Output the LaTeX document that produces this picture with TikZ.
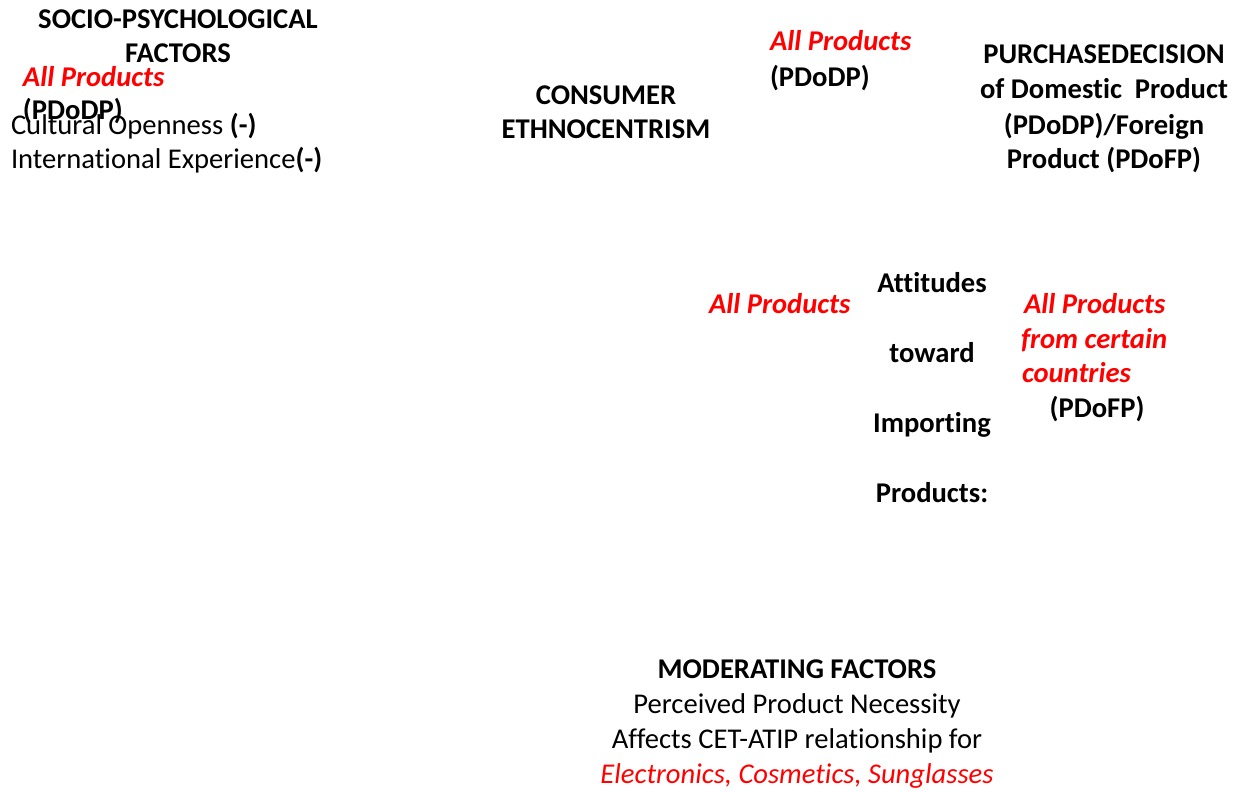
\documentclass[tikz,border=0pt]{standalone}
\usepackage{fontspec}
\setmainfont{Carlito}[Ligatures={NoCommon,NoContextual,NoRare}, RawFeature={-liga;-clig;-calt;-dlig}]
\definecolor{accent}{RGB}{255,0,0}
\tikzset{
  txt/.style={inner sep=0pt, outer sep=0pt, font=\fontsize{28.6}{34}\selectfont},
  hd/.style={txt, font=\fontsize{28.6}{34}\selectfont\bfseries},
  redit/.style={txt, text=accent, font=\fontsize{28.6}{34}\selectfont\bfseries\itshape},
}
\begin{document}
\begin{tikzpicture}[x=1pt,y=-1pt]
\useasboundingbox (0,0) rectangle (1248,792);
% socio-psychological
\node[hd, anchor=base] (sp1) at (178,29) {SOCIO-PSYCHOLOGICAL};
\node[hd, anchor=base] (sp2) at (178,63) {FACTORS};
\node[redit, anchor=base west] (ap1) at (23,86) {All Products};
\node[hd, anchor=base west] (pd1) at (23,119) {(PDoDP)};
\node[txt, anchor=base west] (co) at (11,134) {Cultural Openness \textbf{(-)}};
\node[txt, anchor=base west] (ie) at (11,168) {International Experience\textbf{(-)}};
% consumer ethnocentrism
\node[hd, anchor=base] (ce1) at (606,104) {CONSUMER};
\node[hd, anchor=base] (ce2) at (606,138) {ETHNOCENTRISM};
\node[redit, anchor=base west] (ap2) at (770,51) {All Products};
\node[hd, anchor=base west] (pd2) at (770,86) {(PDoDP)};
% purchase decision
\node[hd, anchor=base] (pu1) at (1104,64) {PURCHASEDECISION};
\node[hd, anchor=base] (pu2) at (1104,99) {of Domestic\ \ Product};
\node[hd, anchor=base] (pu3) at (1104,134) {(PDoDP)/Foreign};
\node[hd, anchor=base] (pu4) at (1104,168) {Product (PDoFP)};
% attitudes
\node[redit, anchor=base west] (ap3) at (709,313) {All Products};
\node[hd, anchor=base] (at1) at (932,292) {Attitudes};
\node[hd, anchor=base] (at2) at (932,362) {toward};
\node[hd, anchor=base] (at3) at (932,432) {Importing};
\node[hd, anchor=base] (at4) at (932,502) {Products:};
\node[redit, anchor=base west] (ap4) at (1024,313) {All Products};
\node[redit, anchor=base west] (fc) at (1021,348) {from certain};
\node[redit, anchor=base west] (cn) at (1022,382) {countries};
\node[hd, anchor=base] (pd3) at (1097,417) {(PDoFP)};
% moderating
\node[hd, anchor=base] (mf1) at (797,678) {MODERATING FACTORS};
\node[txt, anchor=base] (mf2) at (797,713) {Perceived Product Necessity};
\node[txt, anchor=base] (mf3) at (797,748) {Affects CET-ATIP relationship for};
\node[txt, anchor=base, text=accent, font=\fontsize{28.6}{34}\selectfont\itshape] (mf4) at (797,783) {Electronics, Cosmetics, Sunglasses};
\end{tikzpicture}
\end{document}
